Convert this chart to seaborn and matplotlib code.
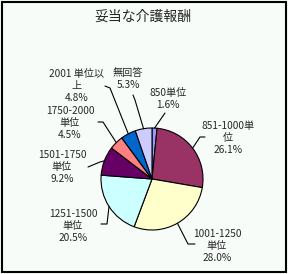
import numpy as np
import matplotlib
matplotlib.use("Agg")
import matplotlib.pyplot as plt
from matplotlib.lines import Line2D
from matplotlib.patches import Rectangle
import seaborn as sns

sns.set_theme(style="white")
plt.rcParams['font.family'] = ['Noto Sans CJK JP', 'DejaVu Sans']

title = "妥当な介護報酬"
categories = ["850単位", "851-1000単位", "1001-1250単位", "1251-1500単位",
              "1501-1750単位", "1750-2000単位", "2001単位以上", "無回答"]
values = [1.6, 26.1, 28.0, 20.5, 9.2, 4.5, 4.8, 5.3]
label_texts = ["850単位\n1.6%", "851-1000単\n位\n26.1%", "1001-1250\n単位\n28.0%",
               "1251-1500\n単位\n20.5%", "1501-1750\n単位\n9.2%",
               "1750-2000\n単位\n4.5%", "2001 単位以\n上\n4.8%", "無回答\n5.3%"]
colors = ["#9999FF", "#993366", "#FFFFCC", "#CCFFFF", "#660066",
          "#FF8080", "#0066CC", "#CCCCFF"]

W, H = 288, 274
fig = plt.figure(figsize=(W / 100, H / 100), dpi=100)
bg = "#F7FCF9"
fig.patch.set_facecolor(bg)
fig.add_artist(Rectangle((1.5 / W, 2.5 / H), (W - 4) / W, (H - 4.5) / H,
                         transform=fig.transFigure, fill=False,
                         edgecolor="black", linewidth=1.5))

# pie placement (pixels, origin top-left)
cx, cy, r = 152, 179, 51
ax = fig.add_axes([(cx - r) / W, (H - cy - r) / H, 2 * r / W, 2 * r / H])
ax.set_facecolor(bg)
wedges, _ = ax.pie(values, colors=colors, startangle=90, counterclock=False,
                   wedgeprops=dict(edgecolor="black", linewidth=0.8))
ax.set_xlim(-1, 1)
ax.set_ylim(-1, 1)
ax.set_aspect('equal')
ax.axis('off')

def px(x, y):
    return (x / W, 1 - y / H)

fig.text(*px(143, 17), title, ha="center", va="center", fontsize=10)

# label layout: centre of text block (pixels), leader line path end points
label_pos = [(168, 99), (228, 138), (217, 246), (73, 226), (62, 167),
             (70, 123), (77, 86), (128, 79)]
leader_ends = [[(165, 113)], [(200, 137), (205, 137)], [(188, 244), (195, 244)],
               [(107, 224), (101, 224)], [(100, 162), (88, 167)],
               [(103, 122), (98, 122)], [(110, 88), (105, 86)], [(135, 100), (133, 95)]]

cum = np.cumsum([0] + values)
total = sum(values)
for i, txt in enumerate(label_texts):
    x, y = label_pos[i]
    fig.text(*px(x, y), txt, ha="center", va="center", fontsize=7.3,
             linespacing=1.3)
    mid = (cum[i] + values[i] / 2) / total * 2 * np.pi
    sx, sy = cx + r * np.sin(mid), cy - r * np.cos(mid)
    pts = [(sx, sy)] + leader_ends[i]
    xs = [p[0] / W for p in pts]
    ys = [1 - p[1] / H for p in pts]
    fig.add_artist(Line2D(xs, ys, transform=fig.transFigure, color="black",
                          linewidth=0.8))

fig.savefig("out.png", dpi=100, facecolor=fig.get_facecolor())
